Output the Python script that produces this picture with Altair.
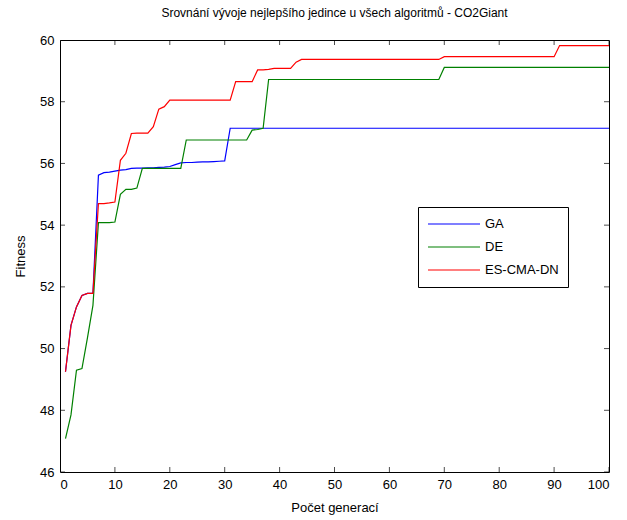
import altair as alt
import pandas as pd

generations = list(range(1, 101))

ga_values = [
    49.25, 50.75, 51.35, 51.72, 51.79, 51.79, 55.62, 55.70, 55.72, 55.75,
    55.78, 55.80, 55.84, 55.85, 55.85, 55.86, 55.86, 55.87, 55.88, 55.90,
    55.96, 56.02, 56.03, 56.03, 56.04, 56.05, 56.05, 56.06, 56.07, 56.08,
    57.14, 57.14, 57.14, 57.14, 57.14, 57.14, 57.14, 57.14, 57.14, 57.14,
    57.14, 57.14, 57.14, 57.14, 57.14, 57.14, 57.14, 57.14, 57.14, 57.14,
    57.14, 57.14, 57.14, 57.14, 57.14, 57.14, 57.14, 57.14, 57.14, 57.14,
    57.14, 57.14, 57.14, 57.14, 57.14, 57.14, 57.14, 57.14, 57.14, 57.14,
    57.14, 57.14, 57.14, 57.14, 57.14, 57.14, 57.14, 57.14, 57.14, 57.14,
    57.14, 57.14, 57.14, 57.14, 57.14, 57.14, 57.14, 57.14, 57.14, 57.14,
    57.14, 57.14, 57.14, 57.14, 57.14, 57.14, 57.14, 57.14, 57.14, 57.14,
]

de_values = [
    47.08, 47.85, 49.30, 49.35, 50.35, 51.40, 54.08, 54.08, 54.08, 54.10,
    55.00, 55.16, 55.16, 55.20, 55.84, 55.84, 55.84, 55.84, 55.84, 55.84,
    55.84, 55.84, 56.76, 56.76, 56.76, 56.76, 56.76, 56.76, 56.76, 56.76,
    56.76, 56.76, 56.76, 56.76, 57.08, 57.10, 57.14, 58.72, 58.72, 58.72,
    58.72, 58.72, 58.72, 58.72, 58.72, 58.72, 58.72, 58.72, 58.72, 58.72,
    58.72, 58.72, 58.72, 58.72, 58.72, 58.72, 58.72, 58.72, 58.72, 58.72,
    58.72, 58.72, 58.72, 58.72, 58.72, 58.72, 58.72, 58.72, 58.72, 59.11,
    59.11, 59.11, 59.11, 59.11, 59.11, 59.11, 59.11, 59.11, 59.11, 59.11,
    59.11, 59.11, 59.11, 59.11, 59.11, 59.11, 59.11, 59.11, 59.11, 59.11,
    59.11, 59.11, 59.11, 59.11, 59.11, 59.11, 59.11, 59.11, 59.11, 59.11,
]

es_values = [
    49.25, 50.75, 51.35, 51.72, 51.79, 51.79, 54.70, 54.70, 54.72, 54.75,
    56.10, 56.33, 56.97, 56.98, 56.98, 56.98, 57.19, 57.76, 57.84, 58.05,
    58.05, 58.05, 58.05, 58.05, 58.05, 58.05, 58.05, 58.05, 58.05, 58.05,
    58.05, 58.65, 58.65, 58.65, 58.65, 59.03, 59.03, 59.05, 59.08, 59.08,
    59.08, 59.08, 59.28, 59.37, 59.37, 59.37, 59.37, 59.37, 59.37, 59.37,
    59.37, 59.37, 59.37, 59.37, 59.37, 59.37, 59.37, 59.37, 59.37, 59.37,
    59.37, 59.37, 59.37, 59.37, 59.37, 59.37, 59.37, 59.37, 59.37, 59.46,
    59.46, 59.46, 59.46, 59.46, 59.46, 59.46, 59.46, 59.46, 59.46, 59.46,
    59.46, 59.46, 59.46, 59.46, 59.46, 59.46, 59.46, 59.46, 59.46, 59.46,
    59.82, 59.82, 59.82, 59.82, 59.82, 59.82, 59.82, 59.82, 59.82, 59.82,
]

series_names = ["GA", "DE", "ES-CMA-DN"]
series_colors = ["#0000ff", "#008000", "#ff0000"]

x_ticks = [0, 10, 20, 30, 40, 50, 60, 70, 80, 90, 100]
y_ticks = [46, 48, 50, 52, 54, 56, 58, 60]

FONT = "Liberation Sans, Arial, sans-serif"

rows = []
for name, vals in zip(series_names, [ga_values, de_values, es_values]):
    for g, v in zip(generations, vals):
        rows.append({"gen": g, "fitness": v, "alg": name})
df = pd.DataFrame(rows)

x_scale = alt.Scale(domain=[0, 100], nice=False, zero=False)
y_scale = alt.Scale(domain=[46, 60], nice=False, zero=False)
color_scale = alt.Scale(domain=series_names, range=series_colors)

x_axis = alt.Axis(values=x_ticks, ticks=False, domain=False, grid=False,
                  labelFontSize=13, labelPadding=6, title="Počet generací",
                  titleFontSize=13, titleFontWeight="normal", titlePadding=10,
                  labelFont=FONT, titleFont=FONT, labelColor="black", titleColor="black")
y_axis = alt.Axis(values=y_ticks, ticks=False, domain=False, grid=False,
                  labelFontSize=13, labelPadding=6, title="Fitness",
                  titleFontSize=13, titleFontWeight="normal", titlePadding=12,
                  labelFont=FONT, titleFont=FONT, labelColor="black", titleColor="black")

legend = alt.Legend(
    title=None, orient="none", legendX=358, legendY=167,
    symbolType="stroke", symbolSize=2704, symbolStrokeWidth=1.2,
    clipHeight=16, rowPadding=7, labelFontSize=13, labelFont=FONT,
    labelColor="black", labelOffset=4, padding=9,
    strokeColor="black", fillColor="white",
)

layers = []
for i, name in enumerate(series_names):
    layers.append(
        alt.Chart(df).transform_filter(alt.datum.alg == name).mark_line(
            strokeWidth=1.2, clip=True
        ).encode(
            x=alt.X("gen:Q", scale=x_scale, axis=x_axis),
            y=alt.Y("fitness:Q", scale=y_scale, axis=y_axis),
            color=alt.Color("alg:N", scale=color_scale, legend=legend),
        )
    )

xt = pd.DataFrame({"t": x_ticks})
yt = pd.DataFrame({"t": y_ticks})

tick_bottom = alt.Chart(xt).mark_tick(size=10, thickness=1, color="black", clip=True, orient="vertical").encode(
    x=alt.X("t:Q", scale=x_scale, axis=x_axis), y=alt.value(432))
tick_top = alt.Chart(xt).mark_tick(size=10, thickness=1, color="black", clip=True, orient="vertical").encode(
    x=alt.X("t:Q", scale=x_scale, axis=x_axis), y=alt.value(0))
tick_left = alt.Chart(yt).mark_tick(size=10, thickness=1, color="black", clip=True, orient="horizontal").encode(
    y=alt.Y("t:Q", scale=y_scale, axis=y_axis), x=alt.value(0))
tick_right = alt.Chart(yt).mark_tick(size=10, thickness=1, color="black", clip=True, orient="horizontal").encode(
    y=alt.Y("t:Q", scale=y_scale, axis=y_axis), x=alt.value(549))

chart = alt.layer(
    *layers, tick_bottom, tick_top, tick_left, tick_right
).properties(
    width=549, height=432,
    padding={"left": 60, "top": 40, "right": 18, "bottom": 48},
    autosize=alt.AutoSizeParams(type="none"),
    title=alt.TitleParams(
        "Srovnání vývoje nejlepšího jedince u všech algoritmů - CO2Giant",
        fontSize=12, fontWeight="normal", font=FONT, color="black", offset=14,
    ),
    background="white",
).configure_view(
    stroke="black", strokeWidth=1
)

chart.save("out.html", embed_options={"renderer": "svg", "actions": False})
